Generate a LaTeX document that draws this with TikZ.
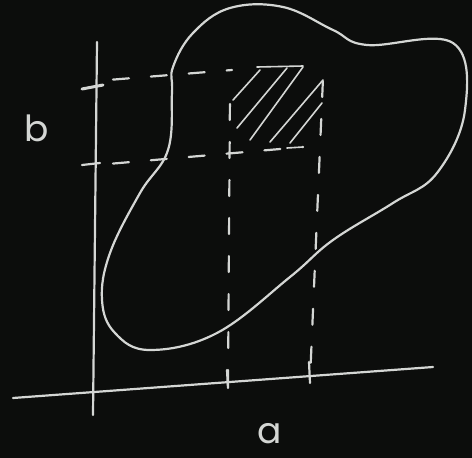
\documentclass[tikz,border=0pt]{standalone}
\usepackage{fontspec}
\newfontfamily\chalkfont{Poppins}
\begin{document}
\begin{tikzpicture}[x=1pt,y=-1pt,
  chalk/.style={draw=chalkc,line width=2.2pt,line cap=round,line join=round},
  dashchalk/.style={chalk,dash pattern=on 16pt off 22pt},
  lbl/.style={text=chalkc,font=\chalkfont\fontsize{36}{36}\selectfont,inner sep=0pt}]
\definecolor{chalkc}{HTML}{D4D6D4}
\definecolor{board}{HTML}{0C0D0C}
\fill[board] (0,0) rectangle (472,458);
\useasboundingbox (0,0) rectangle (472,458);
% axes
\draw[chalk] (97,42) -- (93,415);
\draw[chalk] (13,398) -- (433,367);
% y ticks
\draw[chalk,line width=3pt] (82,89) -- (103,85);
\draw[chalk] (82,165) -- (100,163);
% x ticks
\draw[chalk] (227,370) -- (228,388);
\draw[chalk] (309,362) -- (310,383);
% blob
\draw[chalk] plot[smooth cycle,tension=0.65] coordinates{
 (173,67) (172,92) (168,150) (140,193) (110,253) (102,300) (115,333)
 (150,350) (217,333) (290,277) (333,240) (393,203) (437,173) (465,110)
 (453,43) (367,45) (333,30) (283,7) (230,8) (193,33)};
% dashed lines
\draw[dashchalk,dash phase=-5pt] (108,80) -- (232,70);
\draw[dashchalk,dash phase=-5pt] (108,164) -- (303,147);
\draw[dashchalk,dash phase=-12pt] (230,92) -- (228,388);
\draw[dashchalk,dash phase=-3pt] (323,78) -- (310,380);
% hatched square
\draw[chalk,line width=1.6pt] (257,67) -- (303,66);
\draw[chalk,line width=1.6pt] (233,100) -- (260,70);
\draw[chalk,line width=1.6pt] (237,128) -- (287,68);
\draw[chalk,line width=1.6pt] (250,140) -- (303,67);
\draw[chalk,line width=1.6pt] (270,142) -- (323,80);
\draw[chalk,line width=1.6pt] (290,143) -- (322,103);
\draw[chalk,line width=1.6pt] (287,148) -- (303,147);
% labels
\node[lbl] (b) at (37,128) {b};
\node[lbl,anchor=base] (a) at (270,443) {a};
\end{tikzpicture}
\end{document}
